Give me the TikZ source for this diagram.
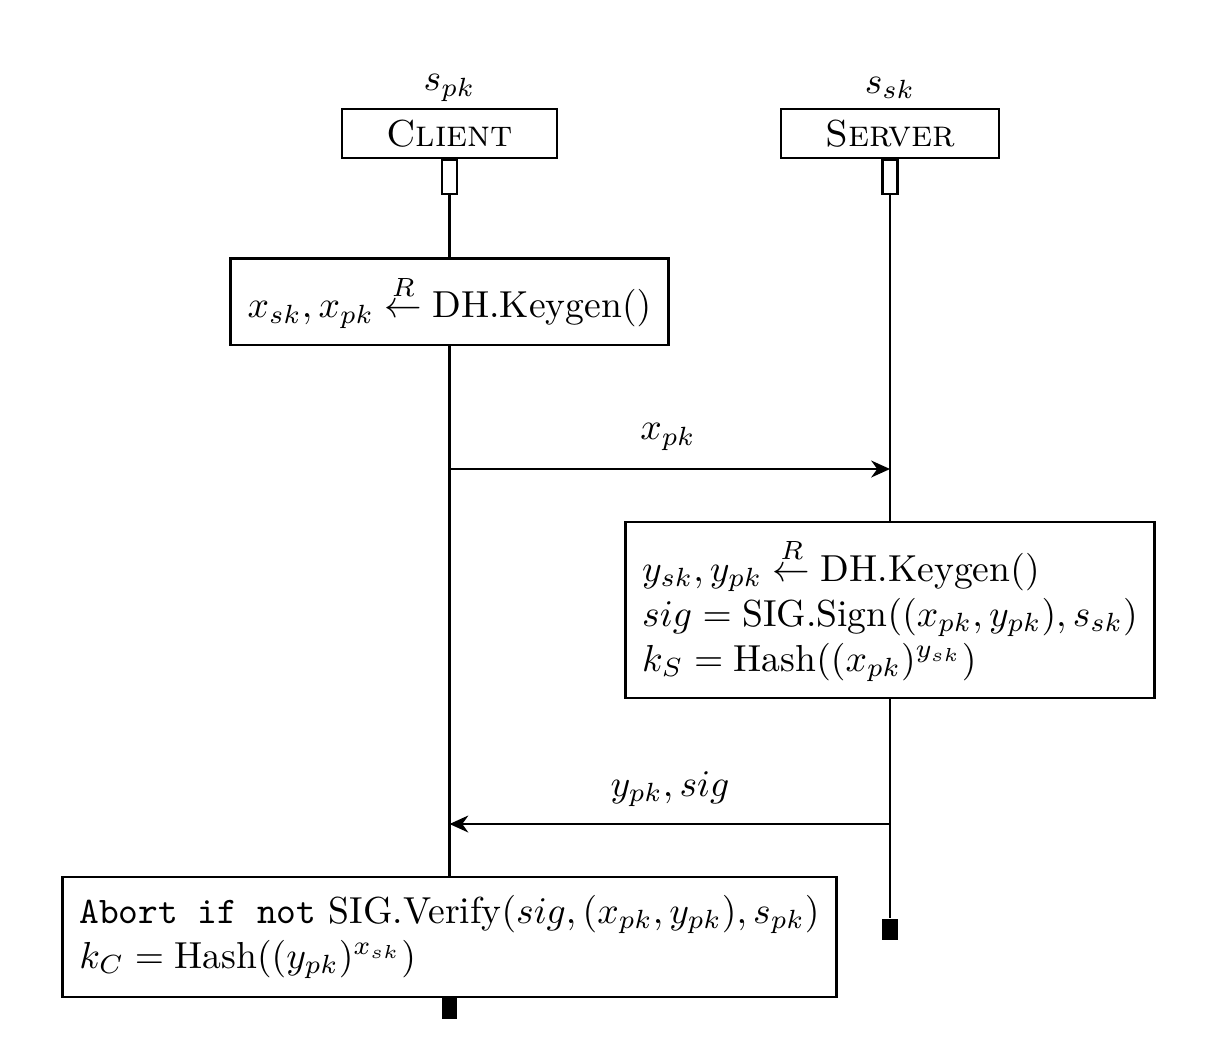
\documentclass[tikz,border=0pt]{standalone}
\usepackage{amsmath}
\usetikzlibrary{arrows.meta}
\begin{document}
\begin{tikzpicture}[x=0.266pt,y=-0.266pt,
  head/.style={draw, line width=0.45pt, inner sep=0pt, minimum height=13.0pt},
  actbox/.style={draw, line width=0.6pt, inner sep=0pt, minimum width=4.0pt, minimum height=9.0pt, fill=white},
  endbox/.style={fill=black, inner sep=0pt, minimum width=4.2pt, minimum height=5.7pt},
  block/.style={draw, line width=0.75pt, align=left, inner xsep=4.5pt, inner ysep=0pt},
  life/.style={line width=0.6pt},
  msg/.style={line width=0.6pt, -{Stealth[length=5pt,width=4.5pt,inset=1.6pt]}},
  lbl/.style={inner sep=0pt}]
\useasboundingbox (0,0) rectangle (1229,1049);

% heads
\node[head, minimum width=57.2pt] (client) at (449.5,133.5) {\textsc{Client}};
\node[head, minimum width=58.0pt] (server) at (890,133.5) {\textsc{Server}};
\node[lbl] (spk) at (449.5,88) {$s_{pk}$};
\node[lbl] (ssk) at (890,88) {$s_{sk}$};

% activation stubs
\node[actbox, anchor=north] (ca) at (client.south) {};
\node[actbox, anchor=north] (sa) at (server.south) {};

% blocks
\node[block, minimum width=114.9pt, minimum height=23.1pt] (b1) at (449.5,301.5)
  {$x_{sk}, x_{pk} \stackrel{R}{\leftarrow} \text{DH.Keygen}()$};
\node[block, minimum width=139.4pt, minimum height=46.8pt] (sb) at (890,610)
  {$y_{sk}, y_{pk} \stackrel{R}{\leftarrow} \text{DH.Keygen}()$\\
   $sig = \text{SIG.Sign}((x_{pk}, y_{pk}), s_{sk})$\\
   $k_S = \text{Hash}((x_{pk})^{y_{sk}})$};
\node[block, minimum width=205.9pt, minimum height=31.9pt] (b2) at (449.5,937)
  {\texttt{Abort if not} $\text{SIG.Verify}(sig, (x_{pk}, y_{pk}), s_{pk})$\\
   $k_C = \text{Hash}((y_{pk})^{x_{sk}})$};

% end markers
\node[endbox] (sEnd) at (890,929.5) {};
\node[endbox] (cEnd) at (449.5,1008) {};

% lifelines
\draw[life] (ca.south) -- (b1.north);
\draw[life] (b1.south) -- (b2.north);
\draw[life] (sa.south) -- (sb.north);
\draw[life] (sb.south) -- (sEnd.north);

% messages
\coordinate (m1a) at (449.5,469);
\coordinate (m1b) at (890,469);
\coordinate (m2a) at (890,824);
\coordinate (m2b) at (449.5,824);
\draw[msg] (m1a) -- (m1b);
\draw[msg] (m2a) -- (m2b);
\node[lbl] (l1) at (668,437) {$x_{pk}$};
\node[lbl] (l2) at (670,789) {$y_{pk}, sig$};
\end{tikzpicture}
\end{document}
